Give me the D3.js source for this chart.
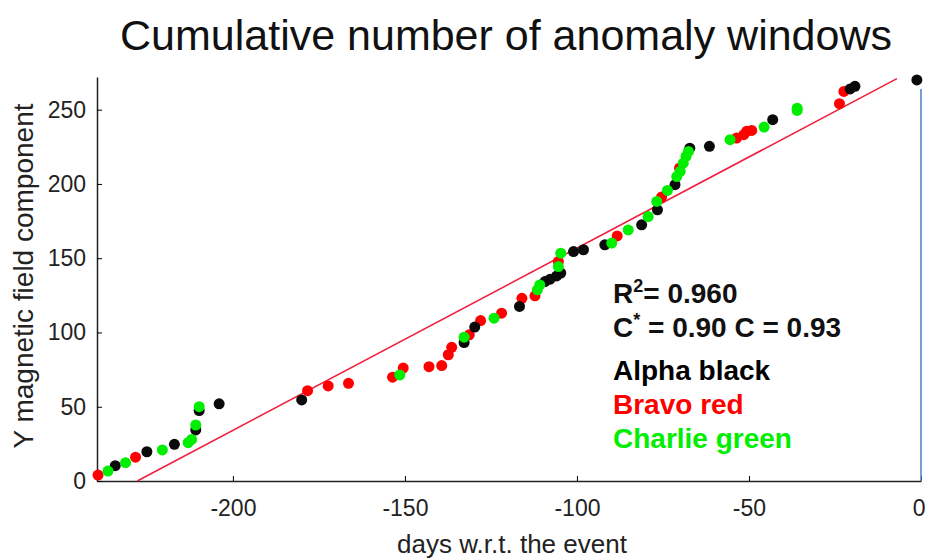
<!DOCTYPE html>
<html>
<head>
<meta charset="utf-8">
<script src="https://cdn.jsdelivr.net/npm/d3@7"></script>
<style>
  body { margin: 0; background: #fff; }
  text { font-family: "Liberation Sans", Arial, sans-serif; }
</style>
</head>
<body>
<svg></svg>
<script>
// chart size
const width = 926;
const height = 560;

// data: [days w.r.t. the event, cumulative count]
const alpha = [
  [-234.2, 10.3], [-225, 19.7], [-217, 24.7], [-210.8, 34.4], [-209.8, 47.4], [-204, 52],
  [-180, 54.6], [-132.8, 93.2], [-129.7, 103.6], [-116.7, 117.5], [-109.3, 134.3],
  [-107.8, 135.9], [-105.9, 138.1], [-104.7, 140], [-101, 154.5], [-98.1, 155.7],
  [-91.9, 159], [-81.2, 172.5], [-76.6, 182.6], [-71.5, 199.5], [-67.2, 224.1],
  [-61.5, 225.3], [-43.1, 243.3], [-20.6, 264], [-19.2, 265.7], [-1.2, 270]
];
const bravo = [
  [-239.2, 4], [-228.3, 16], [-178.3, 60.8], [-172.3, 64], [-166.4, 65.8], [-153.6, 69.9],
  [-150.5, 76], [-143, 77], [-139.3, 77.7], [-137.4, 85], [-136.4, 90], [-131.3, 98.4],
  [-128, 108], [-121.9, 113], [-116, 123], [-112.2, 124.7], [-105.4, 147.8], [-88.3, 165],
  [-75.4, 191.2], [-70.2, 210.7], [-53.6, 230.9], [-51.5, 233.2], [-50.7, 235.4],
  [-49.2, 236], [-23.7, 254], [-22.4, 262.3]
];
const charlie = [
  [-236.3, 6.7], [-231.2, 12.3], [-220.5, 20.9], [-213, 25.8], [-212, 28], [-210.8, 37.7],
  [-209.8, 50], [-151.5, 71.4], [-132.8, 96.8], [-124.1, 109.6], [-111.5, 128.7],
  [-110.8, 132], [-105.4, 144.4], [-104.7, 153.4], [-89.9, 160.2], [-85.1, 169],
  [-79.3, 178], [-76.8, 188.2], [-73.7, 195.6], [-71, 205], [-70, 208.4], [-69.1, 214],
  [-68.3, 218.5], [-67.6, 221.9], [-55.5, 229.8], [-45.6, 238.3], [-36, 249.5], [-36, 251]
];

// linear fit: y = slope * (x - x0)
const fitSlope = 1.227;
const fitX0 = -227.8;
const fitRange = [-227.8, -7];

const xTicks = [-200, -150, -100, -50, 0];
const yTicks = [0, 50, 100, 150, 200, 250];

const legend = [
  { label: "Alpha black", color: "#000000" },
  { label: "Bravo red", color: "#ff0000" },
  { label: "Charlie green", color: "#00ee00" }
];

const svg = d3.select('svg')
  .attr('width', width)
  .attr('height', height);

const x = d3.scaleLinear().domain([-239.5, 0]).range([97, 921]);
const y = d3.scaleLinear().domain([0, 272]).range([481, 77]);

// title
svg.append('text')
  .attr('x', 506)
  .attr('y', 50)
  .attr('text-anchor', 'middle')
  .style('font-size', '43px')
  .attr('fill', '#111')
  .text('Cumulative number of anomaly windows');

// axes (ticks point inward), plain hyphen for negatives
const fmt = (d) => String(d);
const xAxis = svg.append('g')
  .attr('transform', `translate(0,${y(0)})`)
  .call(d3.axisBottom(x).tickValues(xTicks).tickFormat(fmt)
    .tickSizeInner(-5).tickSizeOuter(0).tickPadding(19));
xAxis.selectAll('.tick text').style('font-size', '23px').attr('fill', '#222');
// last label sits at the page edge: keep it inside
xAxis.selectAll('.tick text').filter((d) => d === 0)
  .attr('text-anchor', 'end').attr('x', 4);

const yAxis = svg.append('g')
  .attr('transform', `translate(${x.range()[0]},0)`)
  .call(d3.axisLeft(y).tickValues(yTicks).tickFormat(fmt)
    .tickSizeInner(-5).tickSizeOuter(0).tickPadding(11));
yAxis.selectAll('.tick text').style('font-size', '23px').attr('fill', '#222');
xAxis.select('.domain').attr('stroke', '#222').attr('stroke-width', 1.5);
yAxis.select('.domain').attr('stroke', '#222').attr('stroke-width', 1.5);

// right edge line
svg.append('line')
  .attr('x1', x(0)).attr('x2', x(0))
  .attr('y1', y(264)).attr('y2', y(0))
  .attr('stroke', '#4a7fc1')
  .attr('stroke-width', 1.5);

// axis labels
svg.append('text')
  .attr('x', 512)
  .attr('y', 553)
  .attr('text-anchor', 'middle')
  .style('font-size', '26px')
  .attr('fill', '#222')
  .text('days w.r.t. the event');

svg.append('text')
  .attr('transform', 'translate(33,276) rotate(-90)')
  .attr('text-anchor', 'middle')
  .style('font-size', '28px')
  .attr('fill', '#222')
  .text('Y magnetic field component');

// regression line
svg.append('line')
  .attr('x1', x(fitRange[0])).attr('y1', y(fitSlope * (fitRange[0] - fitX0)))
  .attr('x2', x(fitRange[1])).attr('y2', y(fitSlope * (fitRange[1] - fitX0)))
  .attr('stroke', '#f0203c')
  .attr('stroke-width', 1.6);

// points
function drawSeries(data, color) {
  svg.append('g').selectAll('circle')
    .data(data)
    .join('circle')
    .attr('cx', (d) => x(d[0]))
    .attr('cy', (d) => y(d[1]))
    .attr('r', 5.5)
    .attr('fill', color);
}
drawSeries(bravo, legend[1].color);
drawSeries(alpha, '#0a0a0a');
drawSeries(charlie, legend[2].color);

// annotation
const note = svg.append('g')
  .style('font-weight', 'bold')
  .style('font-size', '28px');

const r2 = note.append('text').attr('x', 613).attr('y', 303).attr('fill', '#111');
r2.append('tspan').text('R');
r2.append('tspan').attr('dy', -11).style('font-size', '18px').text('2');
r2.append('tspan').attr('dy', 11).text('= 0.960');

const cc = note.append('text').attr('x', 613).attr('y', 337).attr('fill', '#111');
cc.append('tspan').text('C');
cc.append('tspan').attr('dy', -11).style('font-size', '18px').text('*');
cc.append('tspan').attr('dy', 11).text(' = 0.90 C = 0.93');

note.selectAll('.leg')
  .data(legend)
  .join('text')
  .attr('class', 'leg')
  .attr('x', 613)
  .attr('y', (d, i) => 380 + i * 34)
  .attr('fill', (d) => d.color)
  .text((d) => d.label);
</script>
</body>
</html>
